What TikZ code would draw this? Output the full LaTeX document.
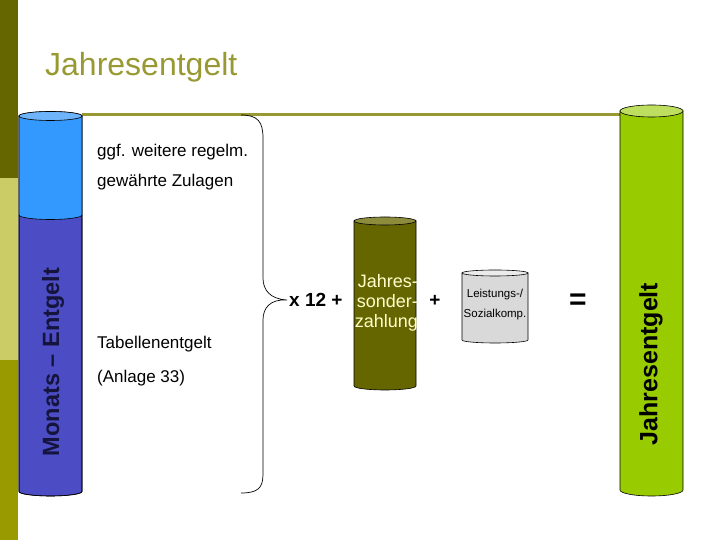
\documentclass[tikz,border=0pt]{standalone}
\usepackage{fontspec}
\setmainfont{Liberation Sans}
\usepackage{tikz}
\usetikzlibrary{positioning}

\definecolor{olivdunkel}{RGB}{102,102,0}
\definecolor{olivhell}{RGB}{204,204,102}
\definecolor{oliv}{RGB}{153,153,0}
\definecolor{titeloliv}{RGB}{153,153,51}
\definecolor{hellblau}{RGB}{51,153,255}
\definecolor{hellblaudeckel}{RGB}{110,180,250}
\definecolor{lila}{RGB}{76,76,196}
\definecolor{gruen}{RGB}{153,204,0}
\definecolor{gruendeckel}{RGB}{190,222,95}
\definecolor{sonderdeckel}{RGB}{140,140,60}
\definecolor{grau}{RGB}{217,217,217}
\definecolor{grauhell}{RGB}{235,235,235}
\definecolor{schrifthell}{RGB}{255,255,204}

% Tonne: cx, rx, ry, oben, unten, Farbe, Deckel
\newcommand{\tonne}[7]{%
  \filldraw[fill=#6, draw=black, line width=0.6pt] (#1-#2,#4) -- (#1-#2,#5)
    arc[start angle=180, end angle=360, x radius=#2, y radius=#3] -- (#1+#2,#4) -- cycle;
  \filldraw[fill=#7, draw=black, line width=0.6pt] (#1,#4) ellipse [x radius=#2, y radius=#3];
}

\tikzset{
  txt/.style={anchor=west, inner sep=0pt, font=\fontsize{17}{20}\selectfont},
  dick/.style={inner sep=0pt, font=\bfseries\fontsize{19}{22}\selectfont},
  brace/.style={draw=black, line width=0.7pt}
}

\begin{document}
\begin{tikzpicture}[x=1pt,y=1pt]
	\useasboundingbox (0,0) rectangle (720,540);
	% Hintergrund und Leiste:
	\fill[white] (0,0) rectangle (720,540);
	\fill[olivdunkel] (0,362) rectangle (18,540);
	\fill[olivhell] (0,180) rectangle (18,362);
	\fill[oliv] (0,0) rectangle (18,180);
	\node[anchor=west, inner sep=0pt, text=titeloliv, font=\fontsize{32}{36}\selectfont] (titel) at (45,473) {Jahresentgelt};
	\draw[titeloliv, line width=3pt] (82,425) -- (620,425);

	% Monats-Entgelt:
	\tonne{50.5}{31.5}{4.5}{424}{48.5}{lila}{hellblaudeckel}
	\fill[hellblau] (19,424) -- (19,325) arc[start angle=180, end angle=360, x radius=31.5, y radius=4.5] -- (82,424) -- cycle;
	\draw[line width=0.6pt] (19,325) arc[start angle=180, end angle=360, x radius=31.5, y radius=4.5];
	\draw[line width=0.6pt] (19,424) -- (19,48.5) arc[start angle=180, end angle=360, x radius=31.5, y radius=4.5] -- (82,424);
	\filldraw[fill=hellblaudeckel, line width=0.6pt] (50.5,424) ellipse [x radius=31.5, y radius=4.5];
	\node[rotate=90, inner sep=0pt, text={rgb,255:red,20;green,20;blue,60}, font=\bfseries\fontsize{23.5}{26}\selectfont] (monat) at (53,178) {Monats – Entgelt};

	\node[txt] (regelm) at (97,388) {ggf. weitere regelm.};
	\node[txt] (zulagen) at (97,358) {gewährte Zulagen};
	\node[txt] (tabelle) at (97,196) {Tabellenentgelt};
	\node[txt] (anlage) at (97,162) {(Anlage 33)};

	% Klammer und Rechnung:
	\node[dick, anchor=west] (mal) at (289,240) {x 12 +};
	\draw[brace] (241,425) .. controls (258,425) and (263,418) .. (263,402) -- (263,262)
	  .. controls (263,250) and (270,241) .. ([xshift=-2pt]mal.west)
	  .. controls (270,241) and (263,232) .. (263,220) -- (263,66)
	  .. controls (263,52) and (258,47) .. (241,47);

	\tonne{385}{31}{4}{319}{154}{olivdunkel}{sonderdeckel}
	\node[anchor=east, inner sep=0pt, align=right, text=schrifthell, font=\fontsize{18}{20}\selectfont] (sonder) at (418,237) {Jahres-\\sonder-\\zahlung};
	\node[dick] (plus) at (435,239) {+};

	\tonne{495}{33}{3}{267}{200}{grau}{grauhell}
	\node[inner sep=0pt, align=center, font=\fontsize{11.5}{20}\selectfont] (leistung) at (495,235) {Leistungs-/\\Sozialkomp.};
	\node[inner sep=0pt, font=\bfseries\fontsize{30}{30}\selectfont] (gleich) at (578,238) {=};

	% Jahresentgelt:
	\tonne{651.5}{31.5}{6}{429}{50}{gruen}{gruendeckel}
	\node[rotate=90, inner sep=0pt, font=\bfseries\fontsize{25}{28}\selectfont] (jahr) at (651,176) {Jahresentgelt};
\end{tikzpicture}
\end{document}
